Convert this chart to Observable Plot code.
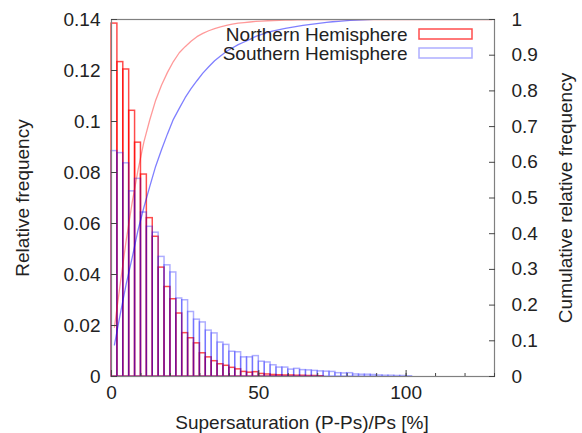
<!DOCTYPE html>
<html><head><meta charset="utf-8">
<script src="https://cdn.jsdelivr.net/npm/d3@7"></script>
<script src="https://cdn.jsdelivr.net/npm/@observablehq/plot@0.6"></script>
<style>
body{margin:0;background:#fff;}
#chart{width:582px;height:433px;}
</style></head><body><div id="chart"></div>
<script>
// ---- data ----
const binStart = [0,2,4,6,8,10,12,14,16,18,20,22,24,26,28,30,32,34,36,38,40,42,44,46,48,50,52,54,56,58,60,62,64,66,68,70,72,74,76,78,80,82,84,86,88,90,92,94,96,98,100,102,104,106,108,110,112,114,116,118,120,122,124,126,128];
const binWidth = 2;
const seriesNames = ["Northern Hemisphere", "Southern Hemisphere"];
const northern = [0.1384,0.1233,0.1204,0.1042,0.0917,0.0792,0.0621,0.0548,0.0427,0.0351,0.0303,0.0247,0.0170,0.0150,0.0130,0.0091,0.0075,0.0060,0.0048,0.0042,0.0034,0.0028,0.0018,0.0015,0.0017,0.0010,0.0008,0.0006,0.0005,0.0004,0.0004,0.0003,0.0003,0.0002,0.0002,0.0001,0,0,0,0,0,0,0,0,0,0,0,0,0,0,0,0,0,0,0,0,0,0,0,0,0,0,0,0,0];
const southern = [0.0884,0.0876,0.0836,0.0726,0.0775,0.0643,0.0587,0.0564,0.0469,0.0436,0.0408,0.0306,0.0299,0.0253,0.0223,0.0212,0.0180,0.0169,0.0133,0.0124,0.0097,0.0095,0.0075,0.0075,0.0080,0.0058,0.0055,0.0044,0.0035,0.0035,0.0027,0.0030,0.0025,0.0024,0.0022,0.0020,0.0019,0.0018,0.0013,0.0012,0.0013,0.0008,0.0007,0.0007,0.0006,0.0004,0.0003,0.0003,0.0002,0.0002,0.0001,0,0,0,0,0,0,0,0,0,0,0,0,0,0];
const leftTicks = [0,0.02,0.04,0.06,0.08,0.10,0.12,0.14];
const rightTickLabels = [0,0.1,0.2,0.3,0.4,0.5,0.6,0.7,0.8,0.9,1];
const xMajorTicks = [0,50,100];
const xMinorTicks = [0,10,20,30,40,50,60,70,80,90,100,110,120,130];
const yMax = 0.14;   // left axis maximum
const cumMax = 1;    // right axis maximum
const xDomain = [0,130];

const colors = {north: "#ff0000", south: "#0000ff"};

function rows(vals) {
  const cum = d3.cumsum(vals);
  return binStart.map((x0, i) => ({x0, x1: x0 + binWidth, v: vals[i], cum: cum[i]}));
}
const north = rows(northern);
const south = rows(southern);
const toLeft = c => c / cumMax * yMax;

const font = "'Liberation Sans', Arial, Helvetica, sans-serif";
const M = {l:111, r:88, t:19, b:57};
const txt = {fontSize: 19, fill: "#222", textAnchor: "middle", lineAnchor: "middle"};

const chart = Plot.plot({
  width: 582, height: 433,
  marginLeft: M.l, marginRight: M.r, marginTop: M.t, marginBottom: M.b,
  style: {fontFamily: font, fontSize: "19px", color: "#222", background: "#fff"},
  x: {domain: xDomain},
  y: {domain: [0, yMax]},
  marks: [
    Plot.rectY(north, {x1: "x0", x2: "x1", y1: d => 0, y2: "v", fill: "none", stroke: colors.north, strokeOpacity: 0.7, strokeWidth: 1.5}),
    Plot.rectY(south, {x1: "x0", x2: "x1", y1: d => 0, y2: "v", fill: "none", stroke: colors.south, strokeOpacity: 0.32, strokeWidth: 1.5}),
    Plot.line(north, {x: d => (d.x0 + d.x1) / 2, y: d => toLeft(d.cum), stroke: colors.north, strokeOpacity: 0.4, strokeWidth: 1.3, clip: true}),
    Plot.line(south, {x: d => (d.x0 + d.x1) / 2, y: d => toLeft(d.cum), stroke: colors.south, strokeOpacity: 0.5, strokeWidth: 1.3, clip: true}),
    Plot.frame({stroke: "#808080", strokeWidth: 1.2}),
    Plot.axisX(xMinorTicks, {tickSize: -3, tickFormat: () => "", stroke: "#444", label: null}),
    Plot.axisX(xMajorTicks, {tickSize: -6, tickPadding: 15, fontSize: 19, fill: "#222", stroke: "#444", label: null, tickFormat: d => String(d)}),
    Plot.axisY(leftTicks, {anchor: "left", tickSize: -6, tickPadding: 17, fontSize: 19, fill: "#222", stroke: "#444", label: null, tickFormat: d => String(+d.toFixed(2))}),
    Plot.axisY(rightTickLabels.map(toLeft), {anchor: "right", tickSize: -6, tickPadding: 23, fontSize: 19, fill: "#222", stroke: "#444", label: null, tickFormat: d => String(Math.round(d / yMax * cumMax * 10) / 10)}),
    Plot.text(["Relative frequency"], {...txt, frameAnchor: "left", dx: -89, rotate: -90}),
    Plot.text(["Cumulative relative frequency"], {...txt, frameAnchor: "right", dx: 71, rotate: -90}),
    Plot.text(["Supersaturation (P-Ps)/Ps [%]"], {...txt, frameAnchor: "bottom", dx: -1, dy: 46}),
    Plot.text([seriesNames[0]], {...txt, frameAnchor: "top-right", dx: -87, dy: 15, textAnchor: "end"}),
    Plot.text([seriesNames[1]], {...txt, frameAnchor: "top-right", dx: -87, dy: 34, textAnchor: "end"})
  ]
});
document.getElementById("chart").appendChild(chart);

// legend sample boxes
const svg = d3.select(chart);
const right = 582 - M.r;
[[colors.north, 0.7, 29], [colors.south, 0.32, 48]].forEach(([c, op, y]) => {
  svg.append("rect").attr("x", right - 75).attr("y", y).attr("width", 53).attr("height", 10)
    .attr("fill", "none").attr("stroke", c).attr("stroke-opacity", op).attr("stroke-width", 1.5);
});
</script>
</body></html>
